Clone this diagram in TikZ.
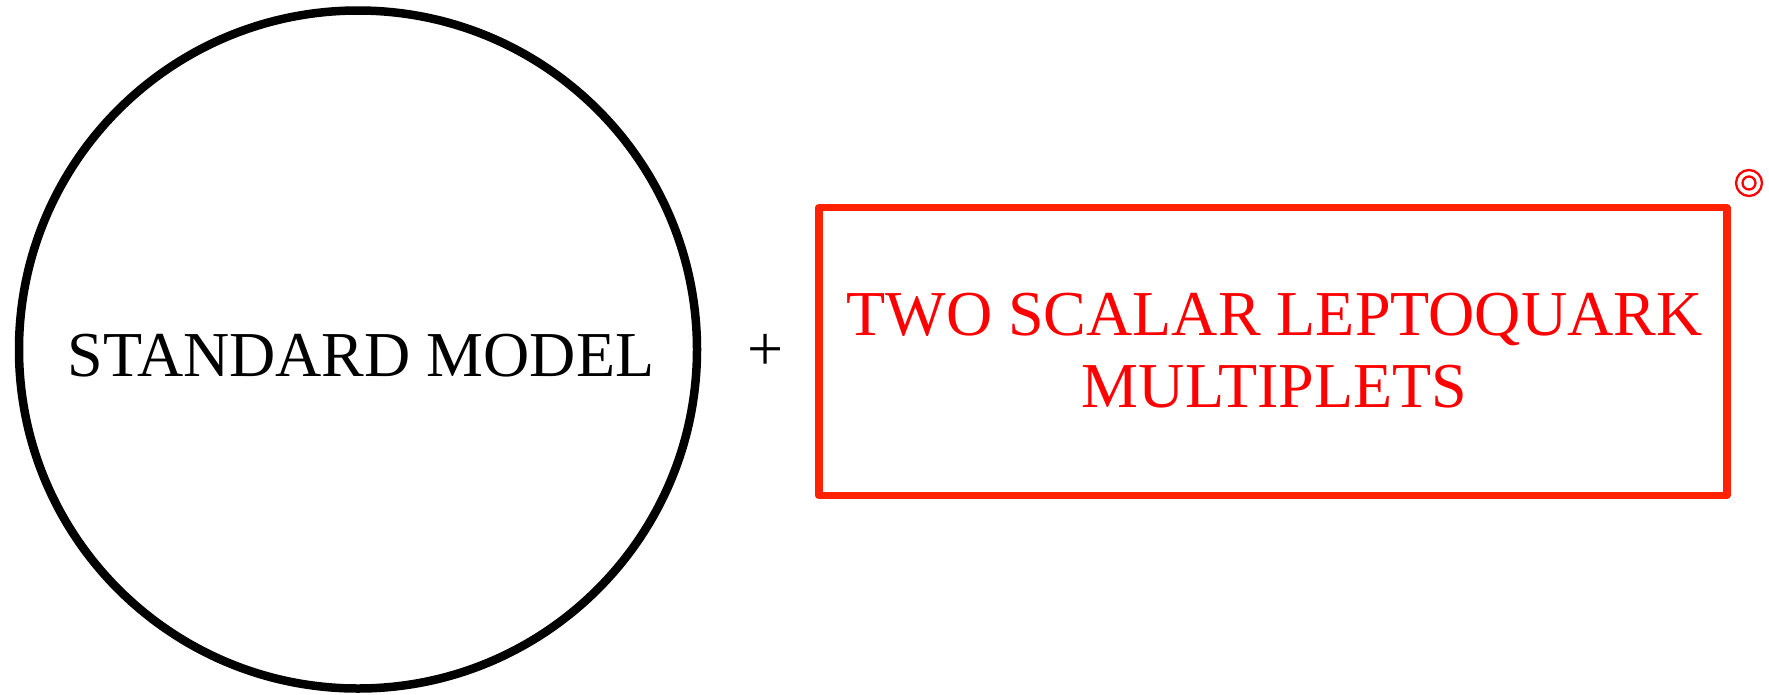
\documentclass[tikz,border=0pt]{standalone}
\usepackage{fontspec}
\setmainfont{Liberation Serif}
\definecolor{boxred}{HTML}{FF2200}
\definecolor{txtred}{HTML}{FF0000}
\tikzset{
  bigtext/.style={font=\fontsize{64}{64}\selectfont, inner sep=0pt},
  redtext/.style={font=\fontsize{64}{64}\selectfont, text=txtred, inner sep=0pt},
}
\begin{document}
\begin{tikzpicture}[x=1pt,y=-1pt]
\useasboundingbox (0,0) rectangle (1769,694);
\node[circle, draw, line width=8.5pt, minimum size=678pt, inner sep=0pt] (sm) at (358,349.5) {};
\node[bigtext, anchor=base] (smtext) at (361,376.5) {STANDARD MODEL};
\node[bigtext] (plus) at (766,352) {+};
\node[draw=boxred, line width=7.5pt, line join=round, minimum width=908pt, minimum height=287.6pt, inner sep=0pt] (lq) at (1272.9,351.5) {};
\node[redtext, anchor=base] (lq1) at (1274.5,335) {TWO SCALAR LEPTOQUARK};
\node[redtext, anchor=base] (lq2) at (1274.5,407.5) {MULTIPLETS};
\node[circle, draw=txtred, line width=2.3pt, minimum size=26pt, inner sep=0pt] (mark) at (1749,183) {};
\node[circle, draw=txtred, line width=2.3pt, minimum size=13pt, inner sep=0pt] (markin) at (mark.center) {};
\end{tikzpicture}
\end{document}
